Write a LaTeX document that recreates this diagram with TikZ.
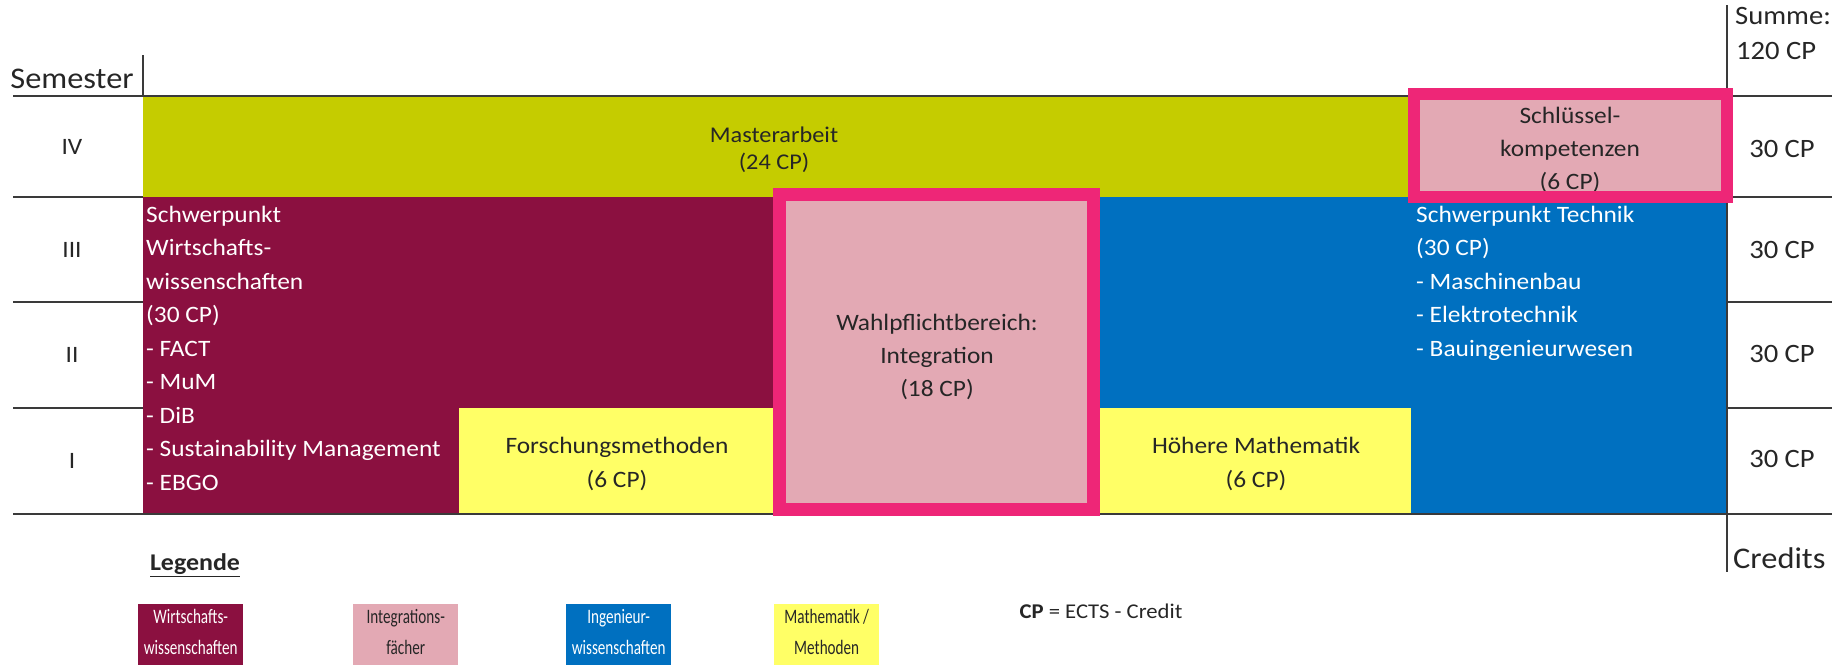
\documentclass[tikz,border=0pt]{standalone}
\usepackage{fontspec}
\setmainfont{Carlito}[FakeStretch=1.08]
\newfontfamily\narrowfont{Carlito}[FakeStretch=0.74]
\usetikzlibrary{positioning}

\definecolor{masterolive}{HTML}{C5CC00}
\definecolor{wiwired}{HTML}{8B1040}
\definecolor{ingblue}{HTML}{0070C0}
\definecolor{mathyellow}{HTML}{FFFF66}
\definecolor{intpink}{HTML}{E3A9B4}
\definecolor{framepink}{HTML}{EE2677}
\definecolor{inkgray}{HTML}{262626}
\definecolor{rulegray}{HTML}{3A3A3A}

\tikzset{
    rule/.style={draw=rulegray, line width=2pt},
    body/.style={font=\fontsize{23.5}{33.4}\selectfont, inner sep=0pt, text=inkgray},
    credit/.style={font=\fontsize{26.5}{32}\selectfont, inner sep=0pt, text=inkgray},
    big/.style={font=\fontsize{30}{34}\selectfont, inner sep=0pt, text=inkgray},
    pinkframe/.style={draw=framepink, line width=12.5pt},
    legbox/.style={anchor=north west, minimum width=105pt, minimum height=61pt, text depth=6pt,
        align=center, inner sep=0pt, font=\narrowfont\fontsize{20.5}{31}\selectfont},
}

\begin{document}
\begin{tikzpicture}[x=1pt, y=-1pt]
    \useasboundingbox (0,0) rectangle (1832,665);

    % Masterarbeit
    \path[fill=masterolive] (143,96) rectangle (1410,197);

    % Wirtschaftswissenschaften
    \path[fill=wiwired] (143,197) -- (774,197) -- (774,408) -- (459,408) -- (459,514) -- (143,514) -- cycle;
    \path[fill=mathyellow] (459,408) rectangle (774,514);

    % Technik
    \path[fill=ingblue] (1100,197) -- (1727,197) -- (1727,514) -- (1411,514) -- (1411,408) -- (1100,408) -- cycle;
    \path[fill=mathyellow] (1100,408) rectangle (1411,514);

    % Integration and Schluesselkompetenzen
    \path[fill=intpink] (779,194) rectangle (1094,510);
    \path[fill=intpink] (1414,94) rectangle (1727,197);

    % table rules
    \draw[rule] (13,96) -- (1832,96);
    \draw[rule] (13,514) -- (1832,514);
    \draw[rule] (143,55) -- (143,96);
    \draw[rule] (1727,5) -- (1727,572);
    \foreach \y in {197,302,408} {
        \draw[rule] (13,\y) -- (143,\y);
        \draw[rule] (1727,\y) -- (1832,\y);
    }

    % semester column
    \node[big] (semester) at (72,79) {Semester};
    \node[body] (semIV) at (72,147) {IV};
    \node[body] (semIII) at (72,250) {III};
    \node[body] (semII) at (72,355) {II};
    \node[body] (semI) at (72,461) {I};

    % credit column
    \node[credit, anchor=west] (summe) at (1735,16) {Summe:};
    \node[credit, anchor=west] (total) at (1736,51) {120 CP};
    \node[credit] (credIV) at (1782,149) {30 CP};
    \node[credit] (credIII) at (1782,250) {30 CP};
    \node[credit] (credII) at (1782,354) {30 CP};
    \node[credit] (credI) at (1782,459) {30 CP};
    \node[big, anchor=west] (credits) at (1733,558) {Credits};

    % block texts
    \node[font=\fontsize{22.5}{27}\selectfont, inner sep=0pt, text=inkgray, align=center] (master) at (774,150) {Masterarbeit\\(24 CP)};
    \node[body, align=center] (keyskills) at (1570,150) {Schlüssel-\\kompetenzen\\(6 CP)};
    \node[body, align=center] (elective) at (937,357) {Wahlpflichtbereich:\\Integration\\(18 CP)};
    \node[body, align=center] (research) at (617,464) {Forschungsmethoden\\(6 CP)};
    \node[body, align=center] (mathadv) at (1256,464) {Höhere Mathematik\\(6 CP)};

    \foreach \txt [count=\i] in {Schwerpunkt, Wirtschafts-, wissenschaften, (30 CP), - FACT, - MuM, - DiB, - Sustainability Management, - EBGO}
        \node[body, text=white, anchor=base west] (wiwi\i) at (146,{222+33.5*(\i-1)}) {\txt};
    \foreach \txt [count=\i] in {Schwerpunkt Technik, (30 CP), - Maschinenbau, - Elektrotechnik, - Bauingenieurwesen}
        \node[body, text=white, anchor=base west] (tech\i) at (1416,{222+33.5*(\i-1)}) {\txt};

    % pink frames on top
    \draw[pinkframe] (779.5,194.5) rectangle (1093.5,509.5);
    \draw[pinkframe] (1414,94) rectangle (1727,197);

    % legend
    \node[font=\bfseries\fontsize{24}{28}\selectfont, text=inkgray, inner sep=0pt] (legend) at (195,565) {\underline{Legende}};
    \node[legbox, fill=wiwired, text=white] (legwiwi) at (138,604) {Wirtschafts-\\wissenschaften};
    \node[legbox, fill=intpink, text=inkgray] (legint) at (353,604) {Integrations-\\fächer};
    \node[legbox, fill=ingblue, text=white] (legeng) at (566,604) {Ingenieur-\\wissenschaften};
    \node[legbox, fill=mathyellow, text=inkgray] (legmath) at (774,604) {Mathematik /\\Methoden};
    \node[font=\fontsize{21}{25}\selectfont, text=inkgray, inner sep=0pt] (cpnote) at (1101,611) {\textbf{CP} = ECTS - Credit};
\end{tikzpicture}
\end{document}
